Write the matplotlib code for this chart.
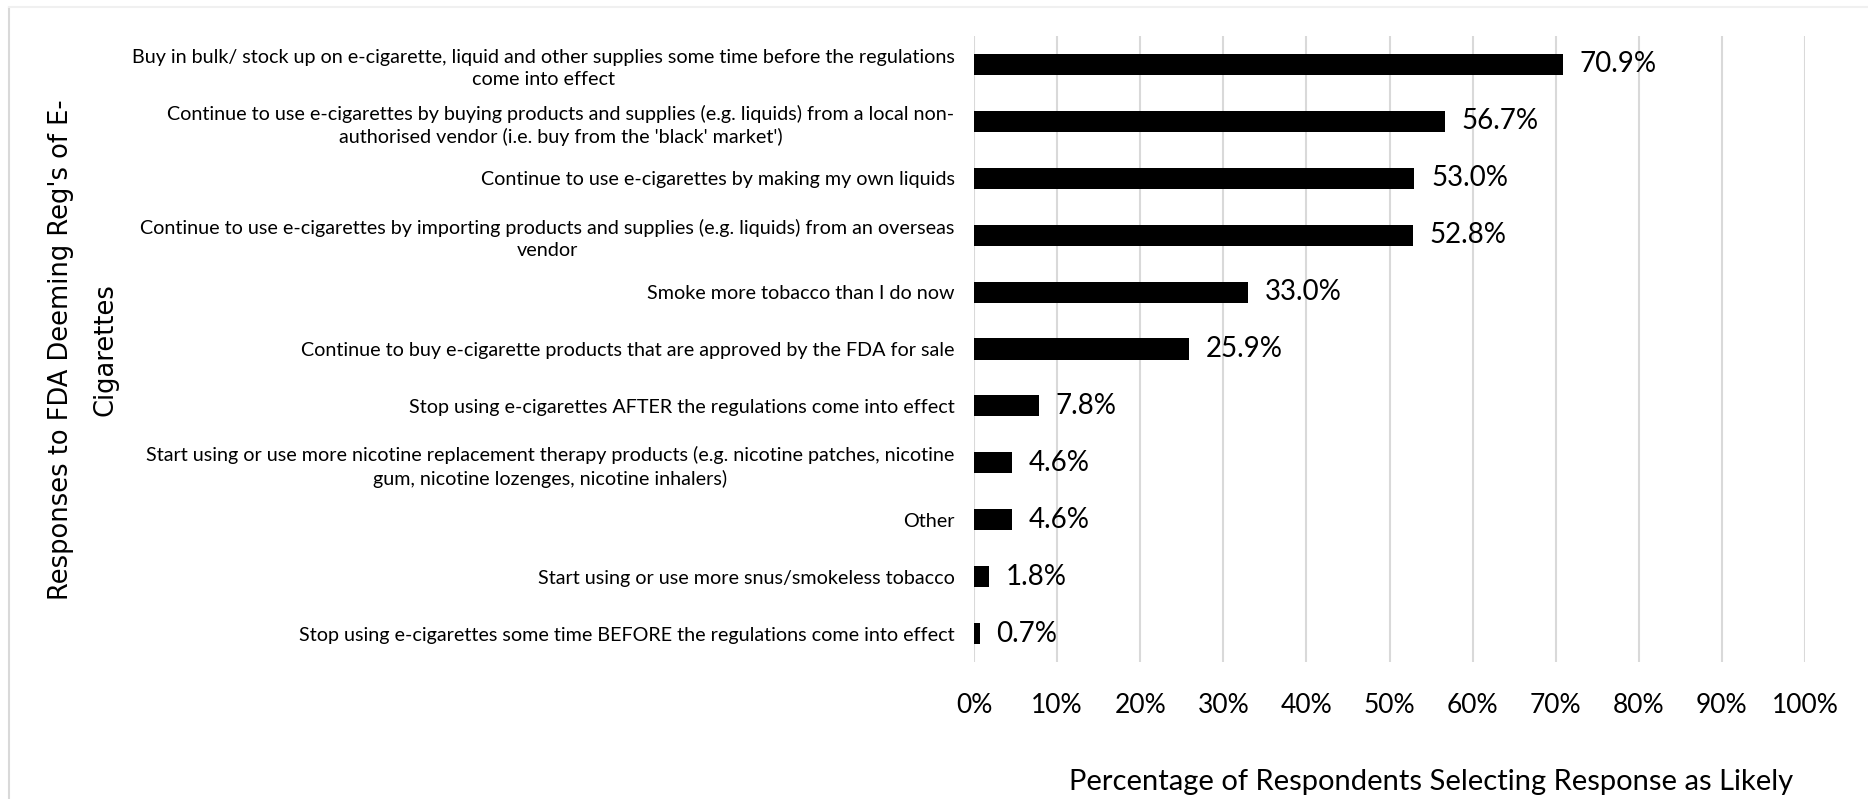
import matplotlib
matplotlib.use("Agg")
import matplotlib.pyplot as plt
from matplotlib.lines import Line2D

categories = [
    "Buy in bulk/ stock up on e-cigarette, liquid and other supplies some time before the regulations\ncome into effect",
    "Continue to use e-cigarettes by buying products and supplies (e.g. liquids) from a local non-\nauthorised vendor (i.e. buy from the 'black' market')",
    "Continue to use e-cigarettes by making my own liquids",
    "Continue to use e-cigarettes by importing products and supplies (e.g. liquids) from an overseas\nvendor",
    "Smoke more tobacco than I do now",
    "Continue to buy e-cigarette products that are approved by the FDA for sale",
    "Stop using e-cigarettes AFTER the regulations come into effect",
    "Start using or use more nicotine replacement therapy products (e.g. nicotine patches, nicotine\ngum, nicotine lozenges, nicotine inhalers)",
    "Other",
    "Start using or use more snus/smokeless tobacco",
    "Stop using e-cigarettes some time BEFORE the regulations come into effect",
]
values = [70.9, 56.7, 53.0, 52.8, 33.0, 25.9, 7.8, 4.6, 4.6, 1.8, 0.7]
xticks = [0, 10, 20, 30, 40, 50, 60, 70, 80, 90, 100]

plt.rcParams['font.family'] = ['Lato', 'DejaVu Sans']

fig = plt.figure(figsize=(18.68, 7.99), dpi=100)
ax = fig.add_axes([974 / 1868, 1 - 662 / 799, (1805 - 974) / 1868, (662 - 36) / 799])

ypos = list(range(len(categories)))
bars = ax.barh(ypos, values, height=0.37, color='black', zorder=3)
ax.set_ylim(len(categories) - 0.5, -0.5)
ax.set_xlim(0, 100)

ax.set_yticks(ypos)
ax.set_yticklabels(categories, fontsize=14.2, multialignment='center', linespacing=1.35)
ax.set_xticks(xticks)
ax.set_xticklabels([f"{t}%" for t in xticks], fontsize=19)
ax.tick_params(axis='both', length=0)
ax.tick_params(axis='y', pad=14)
ax.tick_params(axis='x', pad=22)

ax.grid(axis='x', color='#d9d9d9', linewidth=1.5, zorder=0)
for s in ax.spines.values():
    s.set_visible(False)

ax.bar_label(bars, labels=[f"{v:.1f}%" for v in values], padding=12, fontsize=20)

fig.text(1431 / 1868, 1 - 782 / 799, "Percentage of Respondents Selecting Response as Likely",
         ha='center', va='center', fontsize=21)
fig.text(83 / 1868, 1 - 350 / 799, "Responses to FDA Deeming Reg's of E-\nCigarettes",
         rotation=90, ha='center', va='center', multialignment='center',
         fontsize=18.5, linespacing=1.9, family='DejaVu Sans')

# chart area border
fig.add_artist(Line2D([9 / 1868, 9 / 1868], [0, 1 - 8 / 799], transform=fig.transFigure,
                      color='#d9d9d9', linewidth=1.5))
fig.add_artist(Line2D([9 / 1868, 1], [1 - 7 / 799, 1 - 7 / 799], transform=fig.transFigure,
                      color='#f0f0f0', linewidth=1.5))

fig.savefig("out.png", dpi=100)
